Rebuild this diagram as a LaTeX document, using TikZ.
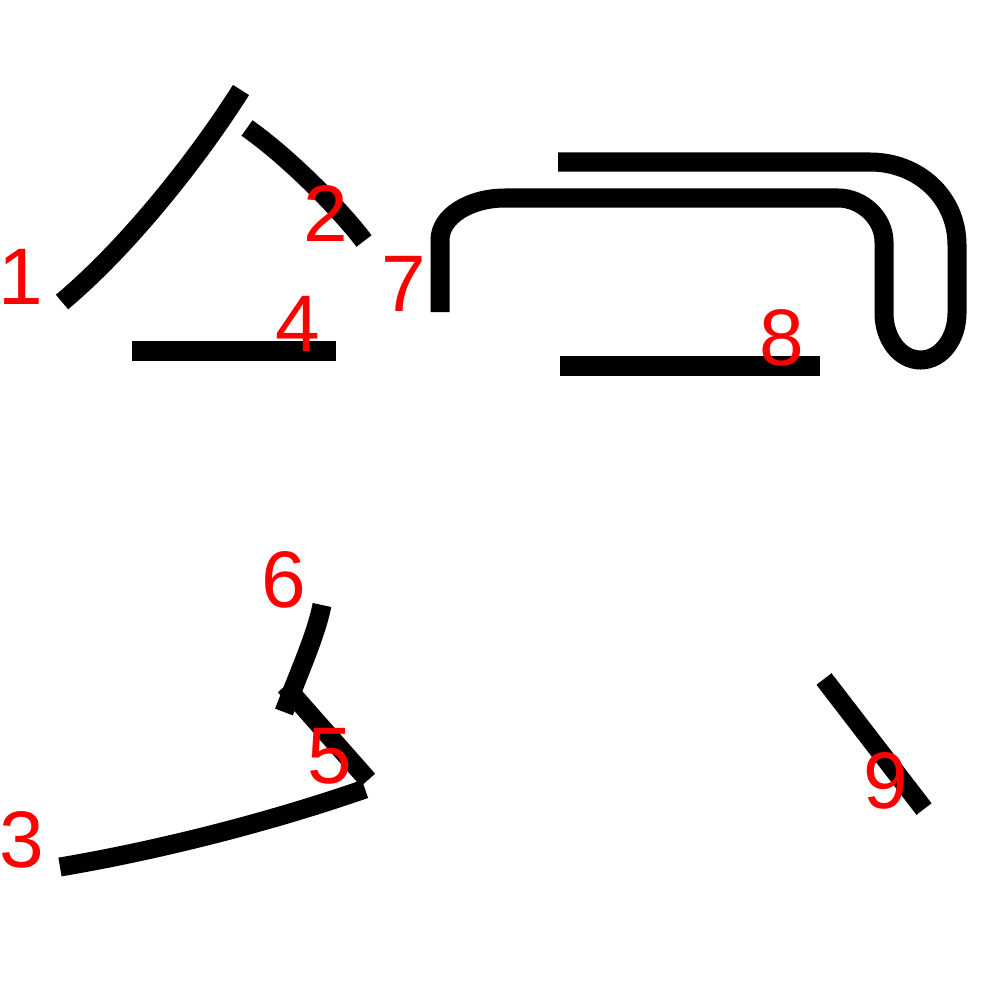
\documentclass[tikz,border=0pt]{standalone}
\usepackage{fontspec}
\setmainfont{Liberation Sans}
\begin{document}
\begin{tikzpicture}
[x=0.01cm, y=-0.01cm,
kstroke/.style={draw=black, line width=0.19cm, line cap=butt, line join=miter},
num/.style={text=red, inner sep=0pt, font=\fontsize{22.8}{24}\selectfont}
]
\useasboundingbox (0,0) rectangle (1000,1000);
%\fill[white] (0,0) rectangle (1000,1000);
\draw[kstroke] (62,302) .. controls (130,245) and (200,155) .. (241,90);
\draw[kstroke] (247,128) .. controls (287,156) and (339,208) .. (364,241);
\draw[kstroke] (60,867) .. controls (160,850) and (270,822) .. (365,789);
\draw[kstroke] (132,351) -- (336,351);
\draw[kstroke] (285,686) -- (368,780);
\draw[kstroke] (322,605) .. controls (316,635) and (300,670) .. (284,712);
\draw[kstroke] (440,312) -- (440,240)
    .. controls (440,216) and (470,198) .. (505,198) -- (838,198)
    .. controls (862,198) and (884,218) .. (884,242) -- (884,313)
    .. controls (884,339) and (900,360) .. (920.5,360)
    .. controls (941,360) and (957,339) .. (957,313) -- (957,245)
    .. controls (957,197) and (918,162) .. (870,162) -- (558,162);
\draw[kstroke] (560,366) -- (820,366);
\draw[kstroke] (824,679) -- (924,809);
% numbers
\node[num] (n1) at (21,277) {1};
\node[num] (n2) at (326,214) {2};
\node[num] (n3) at (22,840) {3};
\node[num] (n4) at (298,324) {4};
\node[num] (n5) at (330,756) {5};
\node[num] (n6) at (284,580) {6};
\node[num] (n7) at (404,284) {7};
\node[num] (n8) at (782,338) {8};
\node[num] (n9) at (886,781) {9};
\end{tikzpicture}
\end{document}
